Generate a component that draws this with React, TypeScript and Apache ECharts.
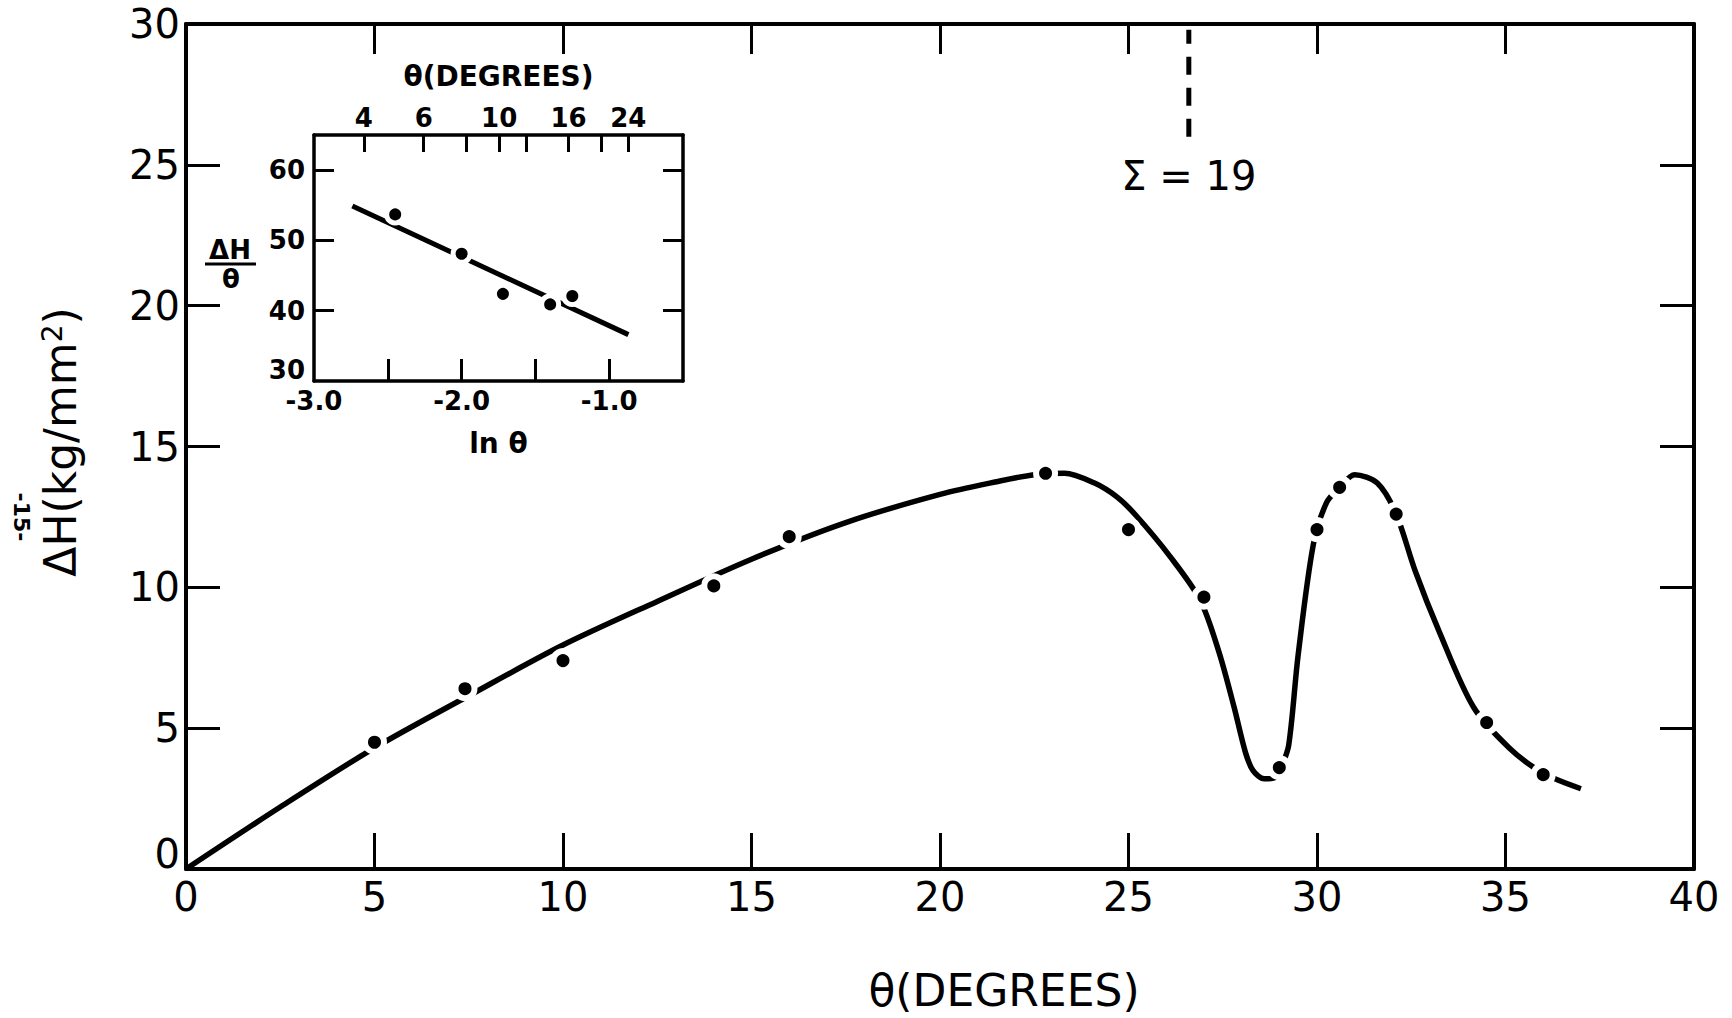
import React, { useEffect, useRef } from "react";
import * as echarts from "echarts";

const W = 1732;
const H = 1018;
const FONT = "DejaVu Sans";

// Measured hardness change against misorientation angle
const thetaPts = [5, 7.4, 10, 14, 16, 22.8, 25, 27, 29, 30, 30.6, 32.1, 34.5, 36];
const dHPts = [4.5, 6.4, 7.4, 10.05, 11.8, 14.05, 12.05, 9.65, 3.6, 12.05, 13.55, 12.6, 5.2, 3.35];

// Hand-faired curve through the measurements
const curveTheta = [
  0, 2.5, 5, 7.5, 10, 12.5, 15, 17.5, 20, 21.5, 22.5, 23.3, 24.1, 24.7, 25.2, 26.1, 26.9,
  27.4, 27.8, 28.1, 28.3, 28.6, 28.9, 29.05, 29.25, 29.5, 29.9, 30.25, 30.6, 31.0, 31.6,
  32.1, 32.6, 33.25, 34.15, 35.1, 36.0, 37.0,
];
const curveDH = [
  0, 2.2, 4.3, 6.15, 7.95, 9.5, 11.0, 12.3, 13.3, 13.75, 14.0, 14.05, 13.7, 13.2, 12.55, 11.1,
  9.55, 7.7, 5.75, 4.15, 3.5, 3.2, 3.25, 3.6, 4.4, 7.6, 11.5, 13.0, 13.55, 14.0, 13.7, 12.6,
  10.6, 8.4, 5.75, 4.3, 3.4, 2.85,
];

// Sigma = 19 coincidence boundary marker
const sigmaTheta = 26.6;
const sigmaSpan = [26.0, 29.8];
const sigmaLabelY = 24.6;
const sigmaText = "Σ = 19";

// Inset: ΔH/θ against ln θ (θ in radians)
const insetLn = [-2.45, -2.0, -1.72, -1.4, -1.25];
const insetRatio = [53.7, 48.1, 42.4, 40.9, 42.1];
const fitLn = [-2.74, -0.87];
const fitRatio = [54.9, 36.6];
const insetXLabels = [-3, -2, -1];
const insetXTicks = [-2.5, -2, -1.5, -1];
const insetYLabels = [30, 40, 50, 60];
const insetYTicks = [40, 50, 60];
const degTicks = [4, 6, 8, 10, 12, 16, 20, 24];
const degLabels = [4, 6, 10, 16, 24];

const lnRad = (deg: number) => Math.log((deg * Math.PI) / 180);
const zip = (a: number[], b: number[]) => a.map((v, i) => [v, b[i]]);

const black = "#000";
const mainLabel = { color: black, fontFamily: FONT, fontSize: 40 };
const insetLabel = { color: black, fontFamily: FONT, fontSize: 26, fontWeight: "bold" as const };

// frame axes: stay on the grid edges, ticks pointing into the plot
const frameLine = (width: number) => ({ onZero: false, lineStyle: { color: black, width } });

function buildOption(): echarts.EChartsOption {
  return {
    animation: false,
    backgroundColor: "#fff",
    grid: [
      { left: 186, top: 24, width: 1508, height: 845 },
      { left: 314, top: 135, width: 369, height: 246 },
    ],
    xAxis: [
      {
        type: "value",
        gridIndex: 0,
        position: "bottom",
        min: 0,
        max: 40,
        interval: 5,
        splitLine: { show: false },
        axisLine: frameLine(4),
        axisTick: { inside: true, length: 36, lineStyle: { color: black, width: 3 } },
        axisLabel: { ...mainLabel, margin: 8 },
      },
      {
        type: "value",
        gridIndex: 0,
        position: "top",
        min: 0,
        max: 40,
        interval: 5,
        splitLine: { show: false },
        axisLine: frameLine(4),
        axisTick: { inside: true, length: 30, lineStyle: { color: black, width: 3 } },
        axisLabel: { show: false },
      },
      {
        type: "value",
        gridIndex: 1,
        position: "bottom",
        min: -3,
        max: -0.5,
        interval: 0.5,
        splitLine: { show: false },
        axisLine: frameLine(3.5),
        axisTick: {
          inside: true,
          length: 22,
          customValues: insetXTicks,
          lineStyle: { color: black, width: 3 },
        },
        axisLabel: {
          ...insetLabel,
          margin: 7,
          customValues: insetXLabels,
          formatter: (v: number) => v.toFixed(1),
        },
        name: "ln θ",
        nameLocation: "middle",
        nameGap: 48,
        nameTextStyle: { color: black, fontFamily: FONT, fontSize: 28, fontWeight: "bold" },
      },
      {
        type: "value",
        gridIndex: 1,
        position: "top",
        min: -3,
        max: -0.5,
        interval: 0.5,
        splitLine: { show: false },
        axisLine: frameLine(3.5),
        axisTick: {
          inside: true,
          length: 17,
          customValues: degTicks.map(lnRad),
          lineStyle: { color: black, width: 3 },
        },
        axisLabel: {
          ...insetLabel,
          margin: 4,
          customValues: degLabels.map(lnRad),
          formatter: (v: number) => String(Math.round((Math.exp(v) * 180) / Math.PI)),
        },
        name: "θ(DEGREES)",
        nameLocation: "middle",
        nameGap: 45,
        nameTextStyle: { color: black, fontFamily: FONT, fontSize: 28, fontWeight: "bold" },
      },
    ],
    yAxis: [
      {
        type: "value",
        gridIndex: 0,
        position: "left",
        min: 0,
        max: 30,
        interval: 5,
        splitLine: { show: false },
        axisLine: frameLine(4),
        axisTick: { inside: true, length: 34, lineStyle: { color: black, width: 3 } },
        axisLabel: {
          ...mainLabel,
          margin: 6,
          // the zero sits a little above the corner
          formatter: (v: number) => (v === 0 ? "{z|0}" : String(v)),
          rich: { z: { ...mainLabel, padding: [0, 0, 30, 0] } },
        },
      },
      {
        type: "value",
        gridIndex: 0,
        position: "right",
        min: 0,
        max: 30,
        interval: 5,
        splitLine: { show: false },
        axisLine: frameLine(4),
        axisTick: { inside: true, length: 34, lineStyle: { color: black, width: 3 } },
        axisLabel: { show: false },
      },
      {
        type: "value",
        gridIndex: 1,
        position: "left",
        min: 30,
        max: 65,
        interval: 5,
        splitLine: { show: false },
        axisLine: frameLine(3.5),
        axisTick: {
          inside: true,
          length: 20,
          customValues: insetYTicks,
          lineStyle: { color: black, width: 3 },
        },
        axisLabel: {
          ...insetLabel,
          margin: 9,
          customValues: insetYLabels,
          formatter: (v: number) => (v === 30 ? "{z|30}" : String(v)),
          rich: { z: { ...insetLabel, padding: [0, 0, 22, 0] } },
        },
      },
      {
        type: "value",
        gridIndex: 1,
        position: "right",
        min: 30,
        max: 65,
        interval: 5,
        splitLine: { show: false },
        axisLine: frameLine(3.5),
        axisTick: {
          inside: true,
          length: 20,
          customValues: insetYTicks,
          lineStyle: { color: black, width: 3 },
        },
        axisLabel: { show: false },
      },
    ],
    series: [
      {
        type: "line",
        xAxisIndex: 0,
        yAxisIndex: 0,
        data: zip(curveTheta, curveDH),
        smooth: 0.3,
        showSymbol: false,
        lineStyle: { color: black, width: 5.5 },
        z: 2,
      },
      {
        type: "scatter",
        xAxisIndex: 0,
        yAxisIndex: 0,
        data: zip(thetaPts, dHPts),
        symbolSize: 19,
        itemStyle: { color: black, borderColor: "#fff", borderWidth: 6, opacity: 1 },
        z: 3,
      },
      {
        type: "line",
        xAxisIndex: 0,
        yAxisIndex: 0,
        data: sigmaSpan.map((y) => [sigmaTheta, y]),
        showSymbol: false,
        lineStyle: { color: black, width: 5, type: [18, 13] },
      },
      {
        type: "scatter",
        xAxisIndex: 0,
        yAxisIndex: 0,
        data: [[sigmaTheta, sigmaLabelY]],
        symbolSize: 1,
        itemStyle: { color: "transparent", opacity: 1 },
        label: {
          show: true,
          position: "inside",
          formatter: sigmaText,
          color: black,
          fontFamily: FONT,
          fontSize: 40,
        },
      },
      {
        type: "line",
        xAxisIndex: 2,
        yAxisIndex: 2,
        data: zip(fitLn, fitRatio),
        showSymbol: false,
        lineStyle: { color: black, width: 5 },
        z: 2,
      },
      {
        type: "scatter",
        xAxisIndex: 2,
        yAxisIndex: 2,
        data: zip(insetLn, insetRatio),
        symbolSize: 17,
        itemStyle: { color: black, borderColor: "#fff", borderWidth: 5, opacity: 1 },
        z: 3,
      },
    ],
    graphic: [
      {
        type: "text",
        x: 1004,
        y: 990,
        style: {
          text: "θ(DEGREES)",
          fill: black,
          font: `44px "${FONT}"`,
          align: "center",
          verticalAlign: "middle",
        },
      },
      {
        type: "text",
        x: 60,
        y: 442,
        rotation: Math.PI / 2,
        style: {
          text: "{m|ΔH(kg/mm}{s|2}{m|)}",
          fill: black,
          align: "center",
          verticalAlign: "middle",
          rich: {
            m: { fontFamily: FONT, fontSize: 44, fill: black },
            s: { fontFamily: FONT, fontSize: 28, fill: black, verticalAlign: "top" },
          },
        },
      },
      {
        type: "text",
        x: 21,
        y: 517,
        rotation: -Math.PI / 2,
        style: {
          text: "-15-",
          fill: black,
          font: `bold 22px "${FONT}"`,
          align: "center",
          verticalAlign: "middle",
        },
      },
      {
        type: "text",
        x: 230,
        y: 250,
        style: {
          text: "ΔH",
          fill: black,
          font: `bold 26px "${FONT}"`,
          align: "center",
          verticalAlign: "middle",
        },
      },
      {
        type: "line",
        shape: { x1: 205, y1: 264, x2: 256, y2: 264 },
        style: { stroke: black, lineWidth: 3 },
      },
      {
        type: "text",
        x: 231,
        y: 279,
        style: {
          text: "θ",
          fill: black,
          font: `bold 26px "${FONT}"`,
          align: "center",
          verticalAlign: "middle",
        },
      },
    ],
  };
}

export default function App() {
  const ref = useRef<HTMLDivElement>(null);

  useEffect(() => {
    document.body.style.margin = "0";
    if (!ref.current) return;
    const chart = echarts.init(ref.current, null, { renderer: "svg", width: W, height: H });
    chart.setOption(buildOption());
    return () => {
      chart.dispose();
    };
  }, []);

  return <div ref={ref} style={{ width: W, height: H, background: "#fff" }} />;
}
